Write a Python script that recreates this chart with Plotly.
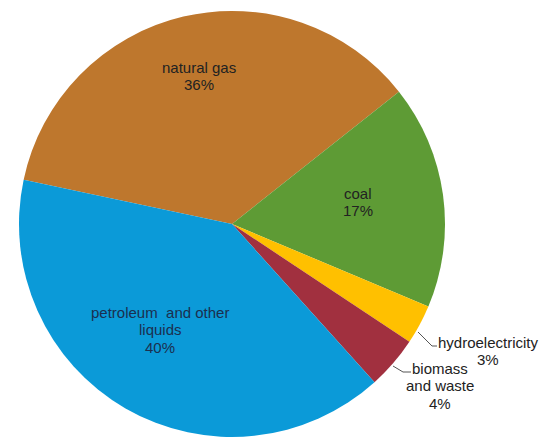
import plotly.graph_objects as go

labels = ["natural gas", "coal", "hydroelectricity", "biomass and waste", "petroleum and other liquids"]
values = [36, 17, 3, 4, 40]
colors = ["#BE772D", "#5E9B35", "#FFC000", "#A1303F", "#0B9AD8"]
label_lines = [["natural gas", "36%"], ["coal", "17%"], ["hydroelectricity", "3%"],
               ["biomass", "and waste", "4%"], ["petroleum  and other", "liquids", "40%"]]

fig = go.Figure(go.Pie(
    labels=labels, values=values, sort=False, direction="clockwise",
    rotation=-78, marker=dict(colors=colors, line=dict(width=0)),
    textinfo="none", hoverinfo="label+percent", showlegend=False,
    domain=dict(x=[19/545, 445/545], y=[0, 0.975]),
))

W, H = 545, 437

# label block centres (px) and line spacing
anchors = {0: (199, 67), 1: (358, 193), 2: (488, 342), 3: (440, 368), 4: (160, 312)}
spacing = 17.5
text_colors = {4: "#1B2F4F"}
for i, (x, y0) in anchors.items():
    for j, line in enumerate(label_lines[i]):
        y = y0 + j * spacing
        fig.add_annotation(x=x / W, y=1 - y / H, xref="paper", yref="paper", text=line,
                           showarrow=False, xanchor="center", yanchor="middle",
                           font=dict(family="Liberation Sans, Arial", size=15,
                                     color=text_colors.get(i, "#222222")))

# leader lines for small slices
for pts in [[(418, 332), (432, 346), (437, 346)], [(393, 366), (403, 372), (411, 372)]]:
    path = "M " + " L ".join(f"{x/W} {1 - y/H}" for x, y in pts)
    fig.add_shape(type="path", xref="paper", yref="paper", path=path,
                  line=dict(color="#555555", width=1))

fig.update_layout(width=W, height=H, margin=dict(l=0, r=0, t=0, b=0),
                  paper_bgcolor="white", plot_bgcolor="white")
fig.write_html("out.html")
